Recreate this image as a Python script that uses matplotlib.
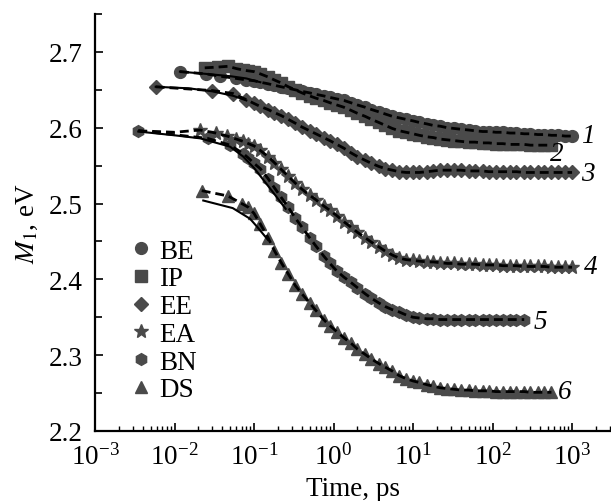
import matplotlib
matplotlib.use('Agg')
import matplotlib.pyplot as plt
from matplotlib.ticker import MultipleLocator, FixedLocator, NullFormatter

plt.rcParams['font.family'] = ['Liberation Serif', 'DejaVu Serif']
plt.rcParams['mathtext.fontset'] = 'stix'

# Shared time grid (ps) for the dense part of the curves
t_grid = [0.1, 0.12, 0.15, 0.18, 0.22, 0.27, 0.33, 0.4, 0.5, 0.6, 0.75, 0.9,
          1.1, 1.35, 1.65, 2, 2.5, 3, 3.7, 4.5, 5.5, 6.7, 8.2, 10, 12, 15, 18,
          22, 27, 33, 40, 50, 60, 75, 90, 110, 135, 165, 200, 250, 300, 370,
          450, 550, 670, 820, 1000]

# Early (sparse) points of each series
t_early_be = [0.0117, 0.025, 0.037, 0.06, 0.08]
m_early_be = [2.674, 2.671, 2.668, 2.665, 2.663]
t_early_ip = [0.024, 0.035, 0.047, 0.06, 0.073, 0.085]
m_early_ip = [2.679, 2.680, 2.681, 2.678, 2.676, 2.675]
t_early_ee = [0.0058, 0.03, 0.055, 0.08]
m_early_ee = [2.654, 2.649, 2.645, 2.637]
t_early_ea = [0.021, 0.033, 0.046, 0.06, 0.073, 0.085]
m_early_ea = [2.597, 2.593, 2.589, 2.585, 2.582, 2.579]
t_early_bn = [0.0035, 0.026, 0.05, 0.073, 0.085]
m_early_bn = [2.596, 2.586, 2.577, 2.566, 2.560]
t_early_ds = [0.022, 0.047, 0.07, 0.085]
m_early_ds = [2.517, 2.510, 2.500, 2.495]

# Values on t_grid (series stop where their list ends)
m_be = [2.662, 2.660, 2.658, 2.656, 2.654, 2.652, 2.650, 2.648, 2.646, 2.644,
        2.642, 2.640, 2.638, 2.636, 2.633, 2.630, 2.627, 2.624, 2.621, 2.618,
        2.615, 2.613, 2.611, 2.609, 2.607, 2.605, 2.603, 2.602, 2.600, 2.599,
        2.598, 2.597, 2.596, 2.595, 2.595, 2.594, 2.594, 2.593, 2.593, 2.592,
        2.592, 2.591, 2.591, 2.590, 2.590, 2.589, 2.589]
m_ip = [2.674, 2.671, 2.667, 2.663, 2.659, 2.654, 2.650, 2.646, 2.642, 2.639,
        2.636, 2.633, 2.630, 2.627, 2.623, 2.619, 2.615, 2.611, 2.607, 2.603,
        2.599, 2.596, 2.594, 2.592, 2.590, 2.588, 2.587, 2.585, 2.584, 2.583,
        2.582, 2.581, 2.581, 2.580, 2.580, 2.579, 2.579, 2.578, 2.578, 2.578,
        2.577, 2.577, 2.577, 2.577]
m_ee = [2.632, 2.628, 2.624, 2.620, 2.616, 2.611, 2.606, 2.601, 2.596, 2.592,
        2.587, 2.583, 2.578, 2.573, 2.567, 2.562, 2.557, 2.553, 2.549, 2.546,
        2.544, 2.542, 2.541, 2.541, 2.541, 2.542, 2.543, 2.544, 2.544, 2.544,
        2.544, 2.543, 2.543, 2.543, 2.542, 2.542, 2.542, 2.542, 2.542, 2.541,
        2.541, 2.541, 2.541, 2.541, 2.541, 2.541, 2.541]
m_ea = [2.576, 2.570, 2.562, 2.554, 2.545, 2.536, 2.527, 2.519, 2.511, 2.505,
        2.497, 2.491, 2.484, 2.476, 2.469, 2.462, 2.455, 2.449, 2.443, 2.437,
        2.432, 2.428, 2.426, 2.425, 2.424, 2.423, 2.423, 2.422, 2.421, 2.421,
        2.420, 2.420, 2.420, 2.419, 2.419, 2.419, 2.418, 2.418, 2.418, 2.417,
        2.417, 2.417, 2.417, 2.416, 2.416, 2.416, 2.416]
m_bn = [2.553, 2.546, 2.533, 2.521, 2.508, 2.495, 2.481, 2.469, 2.455, 2.444,
        2.431, 2.421, 2.411, 2.403, 2.396, 2.389, 2.381, 2.375, 2.369, 2.364,
        2.360, 2.357, 2.353, 2.350, 2.349, 2.348, 2.348, 2.347, 2.347, 2.347,
        2.347, 2.347, 2.347, 2.347, 2.347, 2.347, 2.347, 2.347, 2.347, 2.347]
m_ds = [2.487, 2.473, 2.455, 2.438, 2.422, 2.407, 2.392, 2.381, 2.369, 2.359,
        2.347, 2.339, 2.331, 2.323, 2.316, 2.308, 2.301, 2.295, 2.289, 2.284,
        2.279, 2.273, 2.269, 2.266, 2.264, 2.261, 2.259, 2.257, 2.256, 2.255,
        2.254, 2.254, 2.253, 2.253, 2.253, 2.252, 2.252, 2.252, 2.252, 2.252,
        2.251, 2.251, 2.251, 2.251]

# Solid lines (early-time fits)
t_solid_be = [0.0117, 0.025, 0.05, 0.08, 0.12]
m_solid_be = [2.674, 2.671, 2.668, 2.665, 2.660]
t_solid_ee = [0.0058, 0.015, 0.03, 0.055, 0.08]
m_solid_ee = [2.654, 2.652, 2.648, 2.642, 2.636]
t_solid_bn = [0.0035, 0.01, 0.021, 0.05, 0.073, 0.1, 0.17, 0.25]
m_solid_bn = [2.595, 2.590, 2.586, 2.575, 2.562, 2.547, 2.516, 2.493]
t_solid_ds = [0.023, 0.054, 0.089, 0.108, 0.15]
m_solid_ds = [2.504, 2.494, 2.480, 2.470, 2.452]

# Extra start of the dashed line for EA
t_dash_ea0 = [0.0035, 0.01]
m_dash_ea0 = [2.596, 2.594]

names = ['BE', 'IP', 'EE', 'EA', 'BN', 'DS']
markers = ['o', 's', 'D', '*', 'h', '^']
msizes = [8.5, 8, 7, 10, 8.5, 9]
early_t = [t_early_be, t_early_ip, t_early_ee, t_early_ea, t_early_bn, t_early_ds]
early_m = [m_early_be, m_early_ip, m_early_ee, m_early_ea, m_early_bn, m_early_ds]
grid_m = [m_be, m_ip, m_ee, m_ea, m_bn, m_ds]

curve_labels = ['1', '2', '3', '4', '5', '6']
label_t = [1600, 650, 1600, 1700, 400, 820]
label_m = [2.590, 2.566, 2.540, 2.417, 2.345, 2.252]

x_major = [1e-3, 1e-2, 1e-1, 1, 10, 100, 1000]
x_minor = [m * d for d in [1e-3, 1e-2, 1e-1, 1, 10, 100, 1000]
           for m in range(2, 10)]

gray = '#4a4a4a'
fs = 19.5

fig = plt.figure(figsize=(6.11, 5.02), dpi=100)
ax = fig.add_axes([95/611, 70/502, 515/611, 417/502])

for i in range(6):
    t = early_t[i] + t_grid[:len(grid_m[i])]
    m = early_m[i] + grid_m[i]
    ax.plot(t, m, linestyle='none', marker=markers[i], ms=msizes[i],
            color=gray, mec=gray, label=names[i], zorder=2)
    if i == 3:
        t = t_dash_ea0 + t
        m = m_dash_ea0 + m
    ax.plot(t, m, color='black', lw=2.0, dashes=(3.2, 1.8), zorder=3)

for t, m in [(t_solid_be, m_solid_be), (t_solid_ee, m_solid_ee),
             (t_solid_bn, m_solid_bn), (t_solid_ds, m_solid_ds)]:
    ax.plot(t, m, color='black', lw=1.5, zorder=4)

for lab, x, y in zip(curve_labels, label_t, label_m):
    ax.text(x, y, lab, fontsize=fs, style='italic', ha='center', va='center')

ax.set_xscale('log')
ax.set_xlim(1e-3, 3000)
ax.set_ylim(2.2, 2.75)
ax.set_yticks([2.2, 2.3, 2.4, 2.5, 2.6, 2.7])
ax.yaxis.set_minor_locator(MultipleLocator(0.05))
ax.xaxis.set_major_locator(FixedLocator(x_major))
ax.xaxis.set_minor_locator(FixedLocator([v for v in x_minor if v <= 3000]))
ax.xaxis.set_minor_formatter(NullFormatter())

for s in ['top', 'right']:
    ax.spines[s].set_visible(False)
for s in ['left', 'bottom']:
    ax.spines[s].set_linewidth(1.6)

ax.tick_params(which='major', direction='in', length=6, width=1.2,
               labelsize=fs)
ax.tick_params(axis='y', which='major', pad=9)
ax.tick_params(axis='x', which='major', pad=9)
ax.tick_params(axis='y', which='minor', direction='in', length=5, width=1.2)
ax.tick_params(axis='x', which='minor', direction='in', length=3.5, width=1.0)

ax.set_xlabel('Time, ps', fontsize=fs, labelpad=4)
ax.set_ylabel(r'$M_1$, eV', fontsize=fs, labelpad=6)

ax.legend(loc='upper left', bbox_to_anchor=(0.04, 0.487), frameon=False,
          fontsize=fs, handletextpad=0.1, labelspacing=0.1,
          handlelength=1.1, borderaxespad=0)

fig.savefig('out.png', dpi=100)
